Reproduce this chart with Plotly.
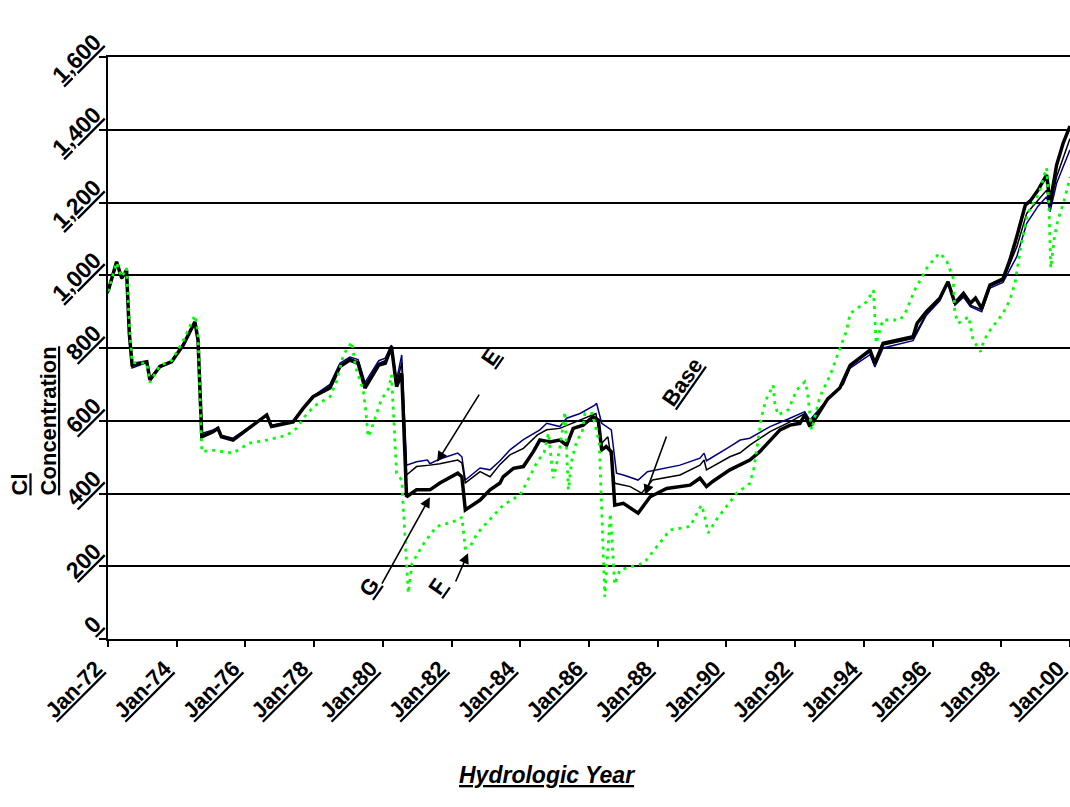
import plotly.graph_objects as go

# Chloride concentration by hydrologic year for four model runs.
# Time is in decimal years; concentrations in the axis units.

g_years = [1972.00, 1972.25, 1972.40, 1972.54, 1972.62, 1972.70, 1973.13, 1973.22, 1973.51, 1973.85,
           1974.19, 1974.53, 1974.62, 1974.73, 1975.06, 1975.20, 1975.30, 1975.64, 1976.22, 1976.62,
           1976.76, 1977.39, 1977.68, 1977.97, 1978.46, 1978.75, 1979.04, 1979.28, 1979.48, 1979.88,
           1980.07, 1980.25, 1980.40, 1980.55, 1980.69, 1980.98, 1981.37, 1981.66, 1982.18, 1982.30,
           1982.40, 1982.83, 1983.12, 1983.41, 1983.50, 1983.80, 1984.09, 1984.38, 1984.57, 1984.86,
           1985.15, 1985.35, 1985.54, 1985.83, 1986.12, 1986.27, 1986.37, 1986.50, 1986.65, 1986.75,
           1987.00, 1987.43, 1987.78, 1988.26, 1988.94, 1989.23, 1989.42, 1989.60, 1990.10, 1990.40,
           1990.68, 1990.97, 1991.27, 1991.56, 1991.85, 1992.14, 1992.28, 1992.43, 1992.62, 1992.95,
           1993.30, 1993.60, 1994.18, 1994.32, 1994.56, 1995.43, 1995.55, 1995.82, 1996.21, 1996.45,
           1996.65, 1996.90, 1997.10, 1997.25, 1997.43, 1997.67, 1998.05, 1998.25, 1998.45, 1998.70,
           1998.85, 1999.07, 1999.32, 1999.42, 1999.61, 1999.80, 2000.00]
g_conc = [955, 1037, 992, 1014, 840, 755, 762, 712, 749, 762,
          808, 872, 822, 556, 570, 579, 556, 547, 588, 616,
          584, 597, 634, 666, 690, 749, 767, 758, 690, 753,
          758, 804, 694, 730, 391, 410, 410, 429, 456, 446,
          355, 382, 410, 429, 446, 469, 474, 515, 547, 542,
          547, 533, 579, 588, 611, 602, 520, 529, 515, 368,
          373, 346, 391, 414, 423, 442, 419, 433, 465, 478,
          492, 515, 547, 575, 588, 593, 616, 584, 611, 660,
          690, 752, 794, 758, 813, 831, 868, 900, 937, 982,
          923, 950, 923, 937, 909, 973, 990, 1042, 1106, 1193,
          1205, 1234, 1276, 1198, 1303, 1363, 1410]

e_years = [1972.00, 1972.25, 1972.40, 1972.54, 1972.62, 1972.70, 1973.13, 1973.22, 1973.51, 1973.85,
           1974.19, 1974.53, 1974.62, 1974.73, 1975.06, 1975.20, 1975.30, 1975.64, 1976.22, 1976.62,
           1976.76, 1977.39, 1977.68, 1977.97, 1978.46, 1978.75, 1979.04, 1979.28, 1979.48, 1979.88,
           1980.07, 1980.25, 1980.40, 1980.55, 1980.69, 1980.98, 1981.30, 1981.37, 1981.66, 1982.18,
           1982.30, 1982.40, 1982.83, 1983.12, 1983.41, 1983.70, 1984.09, 1984.57, 1984.77, 1985.15,
           1985.35, 1985.74, 1986.17, 1986.22, 1986.37, 1986.65, 1986.80, 1987.00, 1987.43, 1987.70,
           1988.65, 1989.23, 1989.35, 1989.42, 1990.10, 1990.40, 1990.68, 1991.27, 1991.85, 1992.28,
           1992.43, 1993.01, 1993.40, 1993.60, 1994.18, 1994.32, 1994.56, 1995.43, 1995.82, 1996.21,
           1996.45, 1996.65, 1996.90, 1997.10, 1997.43, 1997.67, 1998.05, 1998.45, 1998.74, 1999.07,
           1999.32, 1999.42, 1999.61, 2000.00]
e_conc = [950, 1032, 990, 1010, 840, 745, 760, 715, 750, 765,
          810, 868, 825, 565, 575, 582, 560, 552, 590, 614,
          588, 600, 636, 668, 700, 758, 775, 768, 705, 765,
          772, 808, 712, 781, 478, 487, 492, 482, 495, 511,
          501, 437, 470, 465, 490, 520, 548, 575, 593, 584,
          607, 620, 643, 648, 593, 575, 456, 451, 437, 460,
          478, 497, 511, 490, 529, 547, 552, 584, 607, 625,
          602, 666, 700, 745, 782, 748, 800, 820, 890, 930,
          980, 918, 940, 914, 900, 965, 980, 1051, 1143, 1190,
          1216, 1175, 1253, 1345]

base_years = [1972.00, 1972.25, 1972.40, 1972.54, 1972.62, 1972.70, 1973.13, 1973.22, 1973.51, 1973.85,
              1974.19, 1974.53, 1974.62, 1974.73, 1975.06, 1975.20, 1975.30, 1975.64, 1976.22, 1976.62,
              1976.76, 1977.39, 1977.68, 1977.97, 1978.46, 1978.75, 1979.04, 1979.28, 1979.48, 1979.88,
              1980.07, 1980.25, 1980.40, 1980.55, 1980.69, 1980.98, 1981.37, 1981.66, 1982.18, 1982.30,
              1982.40, 1982.83, 1983.12, 1983.41, 1983.70, 1984.09, 1984.50, 1984.77, 1985.15, 1985.74,
              1986.20, 1986.37, 1986.55, 1986.75, 1987.00, 1987.20, 1987.53, 1987.85, 1988.65, 1989.23,
              1989.35, 1989.42, 1990.10, 1990.40, 1990.68, 1990.97, 1991.27, 1991.85, 1992.28, 1992.43,
              1993.01, 1993.40, 1993.60, 1994.18, 1994.32, 1994.56, 1995.43, 1995.82, 1996.21, 1996.45,
              1996.65, 1996.90, 1997.10, 1997.43, 1997.67, 1998.05, 1998.45, 1998.74, 1999.07, 1999.32,
              1999.42, 1999.61, 2000.00]
base_conc = [953, 1035, 991, 1012, 840, 750, 761, 713, 750, 763,
             809, 870, 823, 560, 572, 580, 558, 549, 589, 615,
             586, 598, 635, 667, 695, 752, 771, 762, 697, 758,
             765, 806, 700, 760, 451, 474, 478, 482, 492, 484,
             429, 460, 446, 480, 506, 524, 561, 575, 579, 602,
             620, 538, 556, 428, 423, 419, 401, 437, 451, 478,
             492, 465, 501, 512, 533, 552, 570, 597, 620, 597,
             666, 702, 750, 790, 755, 808, 826, 895, 935, 982,
             920, 945, 918, 905, 970, 985, 1078, 1170, 1207, 1234,
             1189, 1271, 1376]

f_years = [1972.00, 1972.25, 1972.40, 1972.54, 1972.62, 1972.70, 1973.13, 1973.22, 1973.51, 1973.85,
           1974.19, 1974.53, 1974.62, 1974.73, 1975.06, 1975.30, 1975.64, 1976.10, 1976.62, 1977.20,
           1977.50, 1977.68, 1978.00, 1978.46, 1978.66, 1978.85, 1979.10, 1979.20, 1979.43, 1979.50,
           1979.57, 1979.66, 1979.75, 1979.95, 1980.18, 1980.25, 1980.32, 1980.40, 1980.55, 1980.74,
           1980.85, 1981.20, 1981.56, 1982.20, 1982.30, 1982.40, 1982.54, 1982.75, 1983.50, 1983.99,
           1984.15, 1984.47, 1984.70, 1984.82, 1984.96, 1985.02, 1985.15, 1985.30, 1985.36, 1985.40,
           1985.50, 1985.65, 1985.80, 1985.88, 1986.10, 1986.30, 1986.46, 1986.62, 1986.75, 1986.90,
           1987.20, 1987.60, 1988.36, 1988.94, 1989.27, 1989.35, 1989.47, 1989.70, 1990.29, 1990.68,
           1990.80, 1990.88, 1991.02, 1991.15, 1991.36, 1991.41, 1991.50, 1991.80, 1991.90, 1992.04,
           1992.28, 1992.36, 1992.42, 1992.48, 1992.72, 1993.00, 1993.25, 1993.50, 1993.60, 1994.08,
           1994.28, 1994.36, 1994.55, 1995.05, 1995.20, 1995.48, 1995.86, 1996.20, 1996.40, 1996.60,
           1996.65, 1996.75, 1997.05, 1997.18, 1997.40, 1997.47, 1997.60, 1998.05, 1998.25, 1998.40,
           1998.55, 1998.77, 1999.10, 1999.32, 1999.38, 1999.44, 1999.55, 1999.65, 1999.85, 2000.00]
f_conc = [955, 1035, 995, 1020, 870, 760, 758, 705, 752, 765,
          820, 890, 840, 515, 519, 515, 511, 538, 547, 560,
          580, 607, 640, 666, 710, 781, 817, 749, 684, 630,
          556, 575, 602, 657, 690, 726, 600, 456, 437, 126,
          208, 264, 309, 327, 335, 250, 254, 291, 368, 396,
          423, 483, 515, 566, 442, 465, 524, 625, 492, 410,
          492, 547, 566, 620, 620, 538, 116, 345, 150, 190,
          198, 209, 300, 309, 368, 345, 291, 327, 400, 428,
          469, 520, 611, 657, 698, 648, 616, 630, 652, 684,
          707, 680, 625, 575, 666, 721, 785, 849, 895, 927,
          959, 813, 877, 877, 895, 959, 1024, 1061, 1042, 992,
          895, 868, 886, 822, 790, 813, 840, 895, 932, 978,
          1069, 1171, 1226, 1295, 1207, 1020, 1106, 1152, 1212, 1270]

year_ticks = list(range(1972, 2001, 2))
year_labels = ["Jan-%02d" % (y % 100) for y in year_ticks]
conc_ticks = list(range(0, 1601, 200))
conc_labels = ["{:,}".format(v) for v in conc_ticks]

FONT = "Liberation Sans, Arial, sans-serif"

fig = go.Figure()
fig.add_trace(go.Scatter(x=e_years, y=e_conc, mode="lines", name="E",
                         line=dict(color="#000080", width=1.5)))
fig.add_trace(go.Scatter(x=base_years, y=base_conc, mode="lines", name="Base",
                         line=dict(color="#000000", width=1.5)))
fig.add_trace(go.Scatter(x=g_years, y=g_conc, mode="lines", name="G",
                         line=dict(color="#000000", width=3.5)))
fig.add_trace(go.Scatter(x=f_years, y=f_conc, mode="lines", name="F",
                         line=dict(color="#00FF00", width=2.8, dash="3px,5px")))

ann_font = dict(family=FONT, size=22, color="black")
# (label, label x, label y, arrow tail x, tail y, tip x, tip y)
callouts = [
    ("E", 1983.12, 775, 1982.83, 676, 1981.58, 487),
    ("G", 1979.62, 143, 1979.95, 148, 1981.37, 390),
    ("F", 1981.60, 143, 1982.10, 154, 1982.48, 236),
    ("Base", 1988.73, 707, 1988.27, 561, 1987.63, 396),
]
for label, lx, ly, tx, ty, hx, hy in callouts:
    fig.add_annotation(x=hx, y=hy, ax=tx, ay=ty, xref="x", yref="y", axref="x", ayref="y",
                       text="", showarrow=True, arrowhead=2, arrowsize=1.3,
                       arrowwidth=1.6, arrowcolor="black", standoff=0)
    fig.add_annotation(x=lx, y=ly, xref="x", yref="y", text="<b><u>%s</u></b>" % label,
                       showarrow=False, textangle=-55, font=ann_font)

fig.add_annotation(x=-0.076, y=0.244, xref="paper", yref="paper",
                   text="<b><u>Cl</u></b><br><b><u>Concentration</u></b>", showarrow=False,
                   textangle=-90, align="left", xanchor="center", yanchor="bottom",
                   font=dict(family=FONT, size=22, color="black"))
fig.add_annotation(x=0.456, y=-0.259, xref="paper", yref="paper",
                   text="<b><i><u>Hydrologic Year</u></i></b>", showarrow=False,
                   font=dict(family=FONT, size=23, color="black"))

fig.update_xaxes(range=[1972, 2000], tickvals=year_ticks,
                 ticktext=["<b><u>%s</u></b>" % t for t in year_labels],
                 tickangle=-45, tickfont=dict(family=FONT, size=22, color="black"),
                 ticklabelshift=-12, ticklabeloverflow="allow", automargin=False,
                 showgrid=False, zeroline=False, showline=True, mirror=True,
                 linecolor="black", linewidth=2,
                 ticks="outside", ticklen=6, tickwidth=2, tickcolor="black")
fig.update_yaxes(range=[0, 1600], tickvals=conc_ticks,
                 ticktext=["<b><u>%s</u></b>" % t for t in conc_labels],
                 tickangle=-45, tickfont=dict(family=FONT, size=23, color="black"),
                 ticklabelshift=-18, ticklabeloverflow="allow", automargin=False,
                 showgrid=True, gridcolor="black", gridwidth=2, zeroline=False,
                 showline=True, linecolor="black", linewidth=2,
                 ticks="outside", ticklen=7, tickwidth=2, tickcolor="black")

fig.update_layout(width=1070, height=807, margin=dict(l=108, r=0, t=57, b=168, autoexpand=False),
                  paper_bgcolor="white", plot_bgcolor="white", showlegend=False,
                  font=dict(family=FONT, color="black"))

fig.write_html("out.html")
